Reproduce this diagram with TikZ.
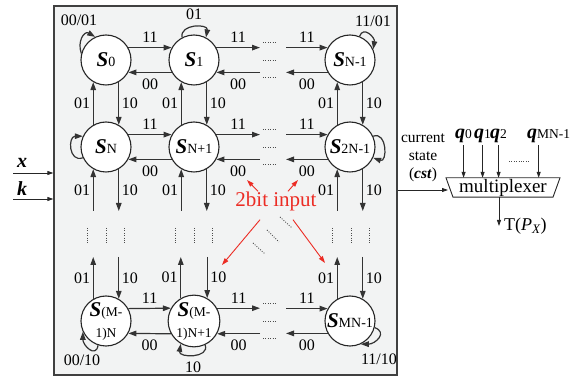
\documentclass[tikz,border=0pt]{standalone}
\usepackage{fontspec}
\setmainfont{Liberation Serif}
\usetikzlibrary{arrows.meta}
\definecolor{boxfill}{RGB}{242,243,243}
\definecolor{redc}{RGB}{236,44,36}
\newcommand{\Sst}[1]{{\fontsize{21}{23}\selectfont\bfseries\itshape S}{\fontsize{14}{16}\selectfont #1}}
\newcommand{\subf}[1]{{\fontsize{13.5}{16}\selectfont #1}}
\begin{document}
\begin{tikzpicture}[x=1pt,y=1pt,
 st/.style={circle,draw=black!85,line width=1.1pt,fill=white,minimum size=50pt,inner sep=0pt,font=\fontsize{21}{23}\selectfont},
 arr/.style={draw=black!80,line width=1.2pt,-{Triangle[length=8pt,width=5.5pt]}},
 lab/.style={font=\fontsize{16}{16}\selectfont,inner sep=1.5pt},
 hd/.style={draw=black!70,line width=0.9pt,dash pattern=on 0.9pt off 1.5pt},
 thinarr/.style={draw=black!85,line width=0.8pt,-{Triangle[length=6pt,width=4pt]}},
 redarr/.style={draw=redc,line width=0.9pt,-{Triangle[length=7pt,width=4.5pt]}},
]
\useasboundingbox (0,0) rectangle (571,-379);
\node[draw=black!75,line width=1.3pt,fill=boxfill,minimum width=343pt,minimum height=369pt,inner sep=0pt] (box) at (225.5,-190.5) {};

% states
\node[st] (S0) at (106,-60) {\Sst{0}};
\node[st] (S1) at (194,-60) {\Sst{1}};
\node[st] (SN1) at (350,-60) {\Sst{N-1}};
\node[st] (SN) at (106,-147) {\Sst{N}};
\node[st] (SNp) at (194,-147) {\Sst{N+1}};
\node[st] (S2N) at (350,-147) {\Sst{2N-1}};
\node[st,align=center] (SM0) at (106,-321) {{\bfseries\itshape S}\subf{(M-}\\[-2pt]\subf{1)N}};
\node[st,align=center] (SM1) at (194,-321) {{\bfseries\itshape S}\subf{(M-}\\[-2pt]\subf{1)N+1}};
\node[st] (SMN) at (350,-321) {\Sst{MN-1}};

\coordinate (xa) at (260,0);
\coordinate (xb) at (286,0);
\coordinate (ya) at (0,-211);
\coordinate (yb) at (0,-257);

% horizontal connectors
\foreach \A/\B/\C in {S0/S1/SN1, SN/SNp/S2N, SM0/SM1/SMN}{
  \draw[arr] (\A.29) -- node[lab,above=3pt]{11} (\B.151);
  \draw[arr] (\B.209) -- node[lab,below=4pt]{00} (\A.331);
  \draw[arr] (\B.29) -- node[lab,above=3pt]{11} (\B.29 -| xa);
  \draw[arr] (\B.331 -| xa) -- node[lab,below=4pt]{00} (\B.331);
  \draw[arr] (\C.151 -| xb) -- node[lab,above=3pt]{11} (\C.151);
  \draw[arr] (\C.209) -- node[lab,below=4pt]{00} (\C.209 -| xb);
}
% horizontal dots
\foreach \r in {60,147,321}{
  \draw[hd] (263,-\r+18) -- (277,-\r+18);
  \draw[hd] (263,-\r) -- (277,-\r);
  \draw[hd] (263,-\r-17) -- (277,-\r-17);
}
% vertical connectors
\foreach \A/\B/\C in {S0/SN/SM0, S1/SNp/SM1, SN1/S2N/SMN}{
  \draw[arr] (\B.120) -- node[lab,left=1pt]{01} (\A.240);
  \draw[arr] (\A.300) -- node[lab,right=1pt]{10} (\B.60);
  \draw[arr] (\B.240 |- ya) -- node[lab,left=1pt]{01} (\B.240);
  \draw[arr] (\B.300) -- node[lab,right=1pt]{10} (\B.300 |- ya);
  \draw[arr] (\C.120) -- node[lab,left=1pt]{01} (\C.120 |- yb);
  \draw[arr] (\C.60 |- yb) -- node[lab,right=1pt]{10} (\C.60);
}
% vertical dots
\foreach \c in {106,194,351}{
  \draw[hd] (\c-19,-228) -- (\c-19,-244);
  \draw[hd] (\c,-228) -- (\c,-244);
  \draw[hd] (\c+18,-228) -- (\c+18,-244);
}
% diagonal dots
\draw[hd] (253,-243) -- (265,-254);
\draw[hd] (267,-230) -- (279,-242);
\draw[hd] (280,-217) -- (292,-228);

% self loops
\draw[arr] (S0.165) to[out=110,in=150,looseness=1.5] (S0.115);
\node[lab] at (79,-20) {00/01};
\draw[arr] (S1.118) to[out=100,in=80,looseness=1.5] (S1.62);
\node[lab] at (194,-14) {01};
\draw[arr] (SN1.68) to[out=70,in=80,looseness=1.6] (SN1.25);
\node[lab] at (373,-21) {11/01};
\draw[arr] (SN.205) to[out=200,in=180,looseness=1.8] (SN.155);
\draw[arr] (S2N.25) to[out=20,in=-20,looseness=1.8] (S2N.-25);
\draw[arr] (SM0.252) to[out=260,in=270,looseness=1.7] (SM0.205);
\node[lab] at (82,-360) {00/10};
\draw[arr] (SM1.295) to[out=290,in=260,looseness=1.5] (SM1.240);
\node[lab] at (193,-367) {10};
\draw[arr] (SMN.-15) to[out=-20,in=0,looseness=1.7] (SMN.-65);
\node[lab] at (379,-359) {11/10};

% 2bit input
\node[text=redc,font=\fontsize{21}{21}\selectfont,inner sep=0pt] (inp) at (276,-201) {2bit input};
\coordinate (t1) at (247,-180);
\coordinate (t2) at (298,-180);
\coordinate (t3) at (222,-265);
\coordinate (t4) at (325,-263);
\draw[redarr] ([xshift=-18pt]inp.north) -- (t1);
\draw[redarr] ([xshift=12pt]inp.north) -- (t2);
\draw[redarr] ([xshift=-16pt,yshift=-9pt]inp.south) -- (t3);
\draw[redarr] ([xshift=17pt,yshift=-9pt]inp.south) -- (t4);

% inputs
\node[font=\fontsize{20}{20}\selectfont\bfseries\itshape] (xl) at (22,-163) {x};
\node[font=\fontsize{20}{20}\selectfont\bfseries\itshape] (kl) at (22,-189) {k};
\coordinate (xs) at (13,-173);
\coordinate (ks) at (13,-199);
\draw[thinarr] (xs) -- (box.west |- xs);
\draw[thinarr] (ks) -- (box.west |- ks);

% multiplexer
\node[font=\fontsize{15.5}{18}\selectfont,align=center] (cst) at (423,-158) {current\\state\\(\textbf{\textit{cst}})};
\node[minimum width=100pt,minimum height=19pt,inner sep=0pt,font=\fontsize{19}{19}\selectfont] (mux) at (503,-187.5) {multiplexer};
\draw[line width=0.9pt,draw=black!85] ([xshift=-57pt]mux.north) -- ([xshift=57pt]mux.north) -- ([xshift=50pt]mux.south) -- ([xshift=-50pt]mux.south) -- cycle;
\coordinate (muxin) at (448,-190);
\draw[thinarr] (box.east |- muxin) -- (muxin);
\node[anchor=base west,inner sep=0pt,font=\fontsize{20}{20}\selectfont] (q0) at (455,-139) {\textbf{\textit{q}}\subf{0}};
\node[anchor=base west,inner sep=0pt,font=\fontsize{20}{20}\selectfont] (q1) at (474,-139) {\textbf{\textit{q}}\subf{1}};
\node[anchor=base west,inner sep=0pt,font=\fontsize{20}{20}\selectfont] (q2) at (490,-139) {\textbf{\textit{q}}\subf{2}};
\node[anchor=base west,inner sep=0pt,font=\fontsize{20}{20}\selectfont] (qM) at (527,-139) {\textbf{\textit{q}}\subf{MN-1}};
\foreach \q/\s in {q0/0,q1/0,q2/0,qM/-10}{
  \draw[thinarr] ([xshift=\s pt,yshift=-2pt]\q.south) -- ([xshift=\s pt]\q.south |- mux.north);
}
\draw[hd] (509,-161) -- (529,-161);
\node[anchor=west,inner sep=0pt,font=\fontsize{18}{18}\selectfont] (tpx) at (504,-226) {T(\textit{P}\raisebox{-3pt}{\fontsize{13}{13}\selectfont\textit{X}})};
\draw[thinarr] ([xshift=-4pt]mux.south) -- ([xshift=-4pt]mux.south |- tpx.west);
\end{tikzpicture}
\end{document}
